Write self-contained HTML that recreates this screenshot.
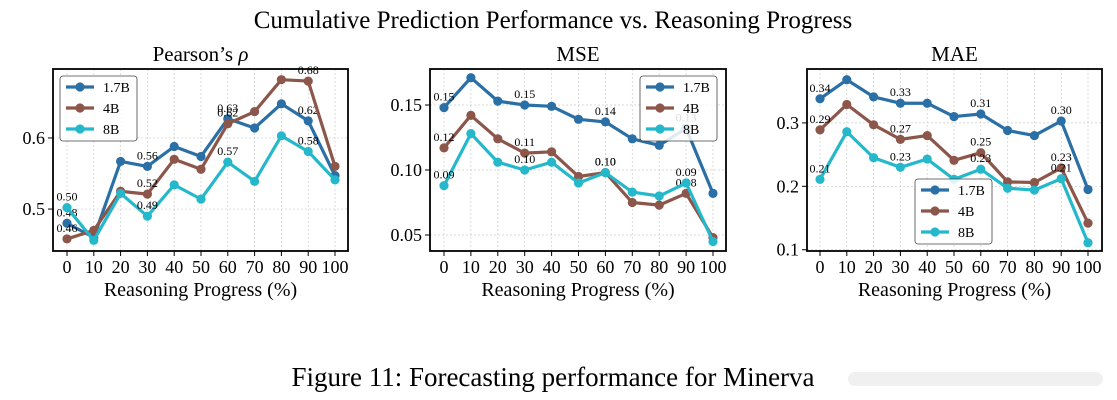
<!DOCTYPE html>
<html><head><meta charset="utf-8">
<style>
body{margin:0;background:#fff;}
svg{display:block;font-family:"Liberation Serif",serif;}
</style></head>
<body>
<svg id="fig" width="1117" height="400" viewBox="0 0 1117 400" xmlns="http://www.w3.org/2000/svg">
<text x="553" y="28" font-size="25" text-anchor="middle">Cumulative Prediction Performance vs. Reasoning Progress</text>
<text x="553" y="386" font-size="27" text-anchor="middle">Figure 11: Forecasting performance for Minerva</text>
<g fill="#f0f0f0">
<rect x="848" y="372" width="255" height="14" rx="7"/>
</g>
</svg>
<script>
const xCats=[0,10,20,30,40,50,60,70,80,90,100];
const seriesNames=["1.7B","4B","8B"];
const colors=["#2a6fa5","#8c564b","#25b8cb"];
const pearson17=[0.48,0.46,0.567,0.56,0.588,0.574,0.627,0.614,0.648,0.624,0.547];
const pearson4=[0.458,0.47,0.525,0.521,0.57,0.556,0.62,0.637,0.682,0.68,0.56];
const pearson8=[0.502,0.456,0.522,0.49,0.534,0.514,0.566,0.539,0.603,0.581,0.541];
const mse17=[0.148,0.171,0.153,0.150,0.149,0.139,0.137,0.124,0.119,0.132,0.082];
const mse4=[0.117,0.142,0.124,0.113,0.114,0.095,0.098,0.075,0.073,0.082,0.048];
const mse8=[0.088,0.128,0.106,0.100,0.106,0.090,0.098,0.083,0.080,0.090,0.045];
const mae17=[0.338,0.368,0.341,0.331,0.331,0.310,0.314,0.288,0.280,0.303,0.195];
const mae4=[0.289,0.329,0.297,0.274,0.280,0.241,0.253,0.207,0.206,0.229,0.142];
const mae8=[0.211,0.286,0.245,0.230,0.243,0.211,0.227,0.197,0.194,0.212,0.111];
const pearsonTicks=[0.5,0.6];
const mseTicks=[0.05,0.10,0.15];
const maeTicks=[0.1,0.2,0.3];
const labelIdx=[0,3,6,9];

const NS="http://www.w3.org/2000/svg";
const svg=document.getElementById('fig');
function mk(tag,attrs,parent){const e=document.createElementNS(NS,tag);for(const k in attrs)e.setAttribute(k,attrs[k]);(parent||svg).appendChild(e);return e;}

const panels=[
 {name:"pearson",title:"Pearson\u2019s ",rho:true,x0:53,x1:348,xa:67,xb:335,ymin:0.441,ymax:0.697,ticks:pearsonTicks,fmt:v=>v.toFixed(1),data:[pearson17,pearson4,pearson8],leg:[60,76]},
 {name:"mse",title:"MSE",x0:430,x1:726,xa:444,xb:713,ymin:0.0377,ymax:0.1777,ticks:mseTicks,fmt:v=>v.toFixed(2),data:[mse17,mse4,mse8],leg:[640,76]},
 {name:"mae",title:"MAE",x0:807,x1:1102,xa:820,xb:1088,ymin:0.098,ymax:0.385,ticks:maeTicks,fmt:v=>v.toFixed(1),data:[mae17,mae4,mae8],leg:[915,179]}
];
const Y0=69,Y1=251;
panels.forEach(p=>{
 const g=mk('g',{});
 
 
 const xs=v=>p.xa+(v-xCats[0])/(xCats[xCats.length-1]-xCats[0])*(p.xb-p.xa);
 const ys=v=>Y1-(v-p.ymin)/(p.ymax-p.ymin)*(Y1-Y0);
 const t=mk('text',{x:(p.x0+p.x1)/2,y:61,'font-size':21,'text-anchor':'middle'},g);t.textContent=p.title;
 if(p.rho){const ts=mk('tspan',{'font-style':'italic'},t);ts.textContent='\u03C1';}
 
 
 xCats.forEach(c=>{const l=mk('line',{x1:xs(c),x2:xs(c),y1:Y0,y2:Y1,stroke:'#ccc','stroke-width':0.7,'stroke-dasharray':'2,2'},g);
  
  mk('line',{x1:xs(c),x2:xs(c),y1:Y1,y2:Y1+5,stroke:'#000','stroke-width':1},g);
  const tl=mk('text',{x:xs(c),y:Y1+22,'font-size':18,'text-anchor':'middle'},g);tl.textContent=c;
  });
 p.ticks.forEach(v=>{const l=mk('line',{x1:p.x0,x2:p.x1,y1:ys(v),y2:ys(v),stroke:'#ccc','stroke-width':0.7,'stroke-dasharray':'2,2'},g);
  
  mk('line',{x1:p.x0-5,x2:p.x0,y1:ys(v),y2:ys(v),stroke:'#000','stroke-width':1},g);
  const tl=mk('text',{x:p.x0-8,y:ys(v)+6,'font-size':18,'text-anchor':'end'},g);tl.textContent=p.fmt(v);
  });
 const xl=mk('text',{x:(p.x0+p.x1)/2,y:296,'font-size':20,'text-anchor':'middle'},g);xl.textContent='Reasoning Progress (%)';
 
 p.data.forEach((arr,si)=>{
  const pts=arr.map((v,i)=>xs(xCats[i])+','+ys(v)).join(' ');
  const pl=mk('polyline',{points:pts,fill:'none',stroke:colors[si],'stroke-width':3.2,'stroke-linejoin':'round'},g);
  
  arr.forEach((v,i)=>{const c=mk('circle',{cx:xs(xCats[i]),cy:ys(v),r:4.6,fill:colors[si]},g);
   });
  labelIdx.forEach(i=>{const tl=mk('text',{x:xs(xCats[i]),y:ys(arr[i])-7,'font-size':12,'text-anchor':'middle'},g);tl.textContent=arr[i].toFixed(2);
   });
 });
 mk('rect',{x:p.x0,y:Y0,width:p.x1-p.x0,height:Y1-Y0,fill:'none',stroke:'#000','stroke-width':1.8},g);
 const lg=mk('g',{},g);
 
 const [lx,ly]=p.leg;
 mk('rect',{x:lx,y:ly,width:77,height:65,rx:3,fill:'rgba(255,255,255,0.85)',stroke:'#444','stroke-width':0.8},lg);
 seriesNames.forEach((n,si)=>{const yy=ly+11+si*21;
  mk('line',{x1:lx+6,x2:lx+34,y1:yy,y2:yy,stroke:colors[si],'stroke-width':3.2},lg);
  mk('circle',{cx:lx+20,cy:yy,r:4.6,fill:colors[si]},lg);
  const tl=mk('text',{x:lx+43,y:yy+5,'font-size':14},lg);tl.textContent=n;
  });
});
</script>
</body></html>
